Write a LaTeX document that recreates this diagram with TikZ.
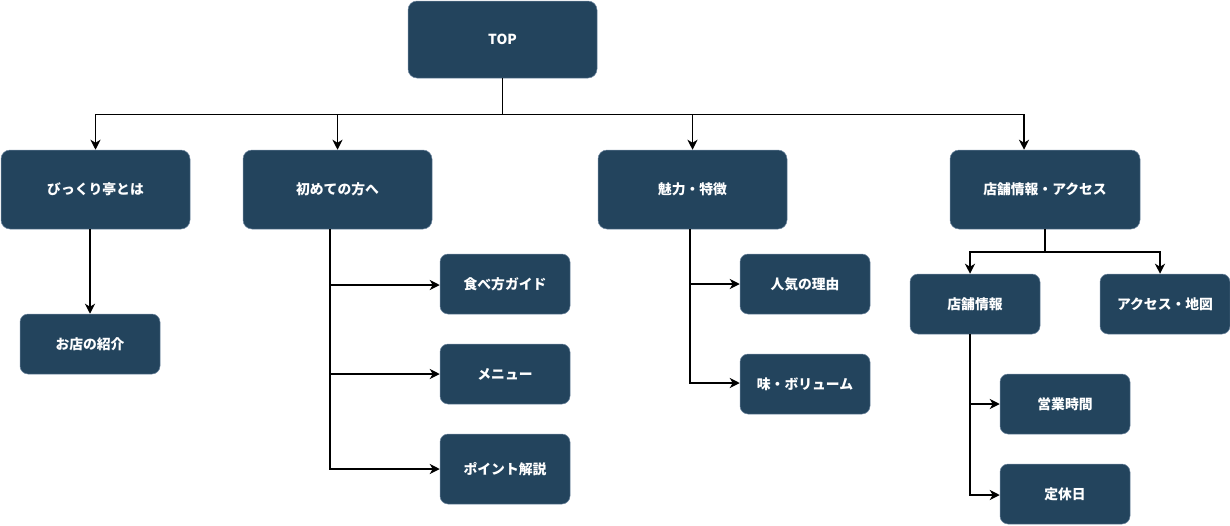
\documentclass[tikz,border=0pt]{standalone}
\usepackage{fontspec}
\setmainfont{Noto Sans CJK JP}
\usetikzlibrary{arrows.meta}
\definecolor{boxfill}{RGB}{35,68,93}
\definecolor{boxline}{RGB}{110,135,160}
\tikzset{
  box/.style={rectangle, rounded corners=9pt, fill=boxfill, draw=boxline, line width=0.5pt,
    text=white, font=\fontsize{13.8}{16}\selectfont\bfseries, inner sep=0pt, anchor=center},
  big/.style={box, minimum width=189pt, minimum height=79pt},
  small/.style={box, minimum width=130pt, minimum height=60pt, rounded corners=8pt},
  arr/.style={line width=1.8pt, -{Stealth[length=10pt,width=10pt,inset=3pt]}},
  ln/.style={line width=1.8pt}
}
\begin{document}
\begin{tikzpicture}[x=1pt,y=-1pt]
\useasboundingbox (0,0) rectangle (1230,525);
\node[big, minimum height=77pt] (top) at (502.5,39.5) {TOP};
\node[big] (b1) at (95.5,189.5) {びっくり亭とは};
\node[big] (b2) at (337.5,189.5) {初めての方へ};
\node[big] (b3) at (692.5,189.5) {魅力・特徴};
\node[big, minimum width=190pt] (b4) at (1045,189.5) {店舗情報・アクセス};
\node[small, minimum width=140pt] (c1) at (90,344) {お店の紹介};
\node[small] (c2) at (505,284) {食べ方ガイド};
\node[small] (c3) at (505,374) {メニュー};
\node[small, minimum height=70pt] (c4) at (505,469) {ポイント解説};
\node[small] (d1) at (805,284) {人気の理由};
\node[small] (d2) at (805,384) {味・ボリューム};
\node[small] (e1) at (975,304) {店舗情報};
\node[small] (e2) at (1165,304) {アクセス・地図};
\node[small] (f1) at (1065,404) {営業時間};
\node[small] (f2) at (1065,494) {定休日};
% top bus
\coordinate (bus) at (502.5,114.5);
\draw[arr] (top.south) -- (bus) -| (b1.north);
\draw[arr] (bus) -| (b2.north);
\draw[arr] (bus) -| (b3.north);
\draw[arr] (bus) -| ([xshift=-21pt]b4.north);
% b1
\draw[arr] (c1.north |- b1.south) -- (c1.north);
% b2
\coordinate (v2) at ([xshift=-7.5pt]b2.south);
\draw[arr] (v2) |- ([yshift=-1pt]c2.west);
\draw[arr] (v2) |- (c3.west);
\draw[arr] (v2) |- (c4.west);
% b3
\coordinate (v3) at ([xshift=-2.5pt]b3.south);
\draw[arr] (v3) |- (d1.west);
\draw[arr] (v3) |- ([yshift=1pt]d2.west);
% b4
\coordinate (bus4) at (1045,252);
\draw[ln] (b4.south) -- (bus4);
\draw[arr] (bus4) -| ([xshift=-5pt]e1.north);
\draw[arr] (bus4) -| ([xshift=-5pt]e2.north);
% e1
\coordinate (v4) at ([xshift=-5pt]e1.south);
\draw[arr] (v4) |- (f1.west);
\draw[arr] (v4) |- ([yshift=-1pt]f2.west);
\end{tikzpicture}
\end{document}
